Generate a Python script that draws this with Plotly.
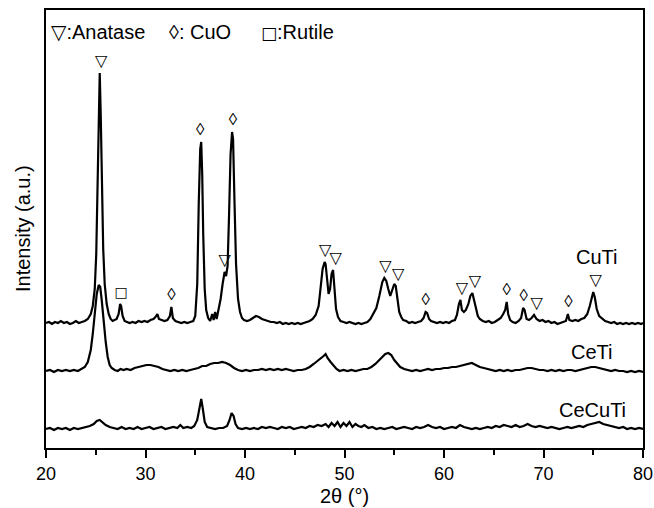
import plotly.graph_objects as go

# ---------------- data ----------------
CUTI_X = [20.0, 20.3, 20.6, 20.9, 21.2, 21.5, 21.8, 22.1, 22.4, 22.7, 23.0, 23.3, 23.6, 23.9, 24.2, 24.5, 24.7, 24.9,
          25.05, 25.2, 25.3, 25.4, 25.5, 25.6, 25.75, 25.9, 26.1, 26.3, 26.5, 26.7, 26.9, 27.1, 27.3, 27.45, 27.55,
          27.7, 27.9, 28.1, 28.4, 28.7, 29.0, 29.3, 29.6, 29.9, 30.2, 30.5, 30.8, 31.0, 31.2, 31.35, 31.6, 31.9,
          32.2, 32.45, 32.6, 32.75, 33.0, 33.3, 33.6, 33.9, 34.2, 34.5, 34.8, 35.0, 35.2, 35.35, 35.5, 35.6, 35.7,
          35.8, 35.95, 36.1, 36.3, 36.5, 36.7, 36.85, 37.0, 37.15, 37.35, 37.55, 37.75, 37.95, 38.1, 38.25, 38.4,
          38.55, 38.7, 38.8, 38.95, 39.1, 39.3, 39.5, 39.7, 39.9, 40.2, 40.5, 40.8, 41.1, 41.4, 41.7, 42.0, 42.3,
          42.6, 42.9, 43.2, 43.5, 43.8, 44.1, 44.4, 44.7, 45.0, 45.3, 45.6, 45.9, 46.2, 46.5, 46.8, 47.1, 47.4,
          47.6, 47.8, 48.0, 48.1, 48.25, 48.4, 48.55, 48.7, 48.85, 49.0, 49.15, 49.35, 49.6, 49.9, 50.2, 50.5,
          50.8, 51.1, 51.4, 51.7, 52.0, 52.3, 52.6, 52.9, 53.2, 53.5, 53.8, 54.0, 54.2, 54.4, 54.6, 54.8, 55.0,
          55.15, 55.3, 55.5, 55.7, 55.9, 56.2, 56.5, 56.8, 57.1, 57.4, 57.7, 57.95, 58.15, 58.3, 58.5, 58.7, 59.0,
          59.3, 59.6, 59.9, 60.2, 60.5, 60.8, 61.1, 61.3, 61.5, 61.65, 61.8, 62.0, 62.2, 62.45, 62.65, 62.85, 63.0,
          63.2, 63.4, 63.6, 63.9, 64.2, 64.5, 64.8, 65.1, 65.4, 65.7, 65.95, 66.15, 66.3, 66.45, 66.65, 66.9, 67.2,
          67.5, 67.75, 67.95, 68.1, 68.3, 68.55, 68.8, 69.05, 69.3, 69.6, 69.9, 70.2, 70.5, 70.8, 71.1, 71.4, 71.7,
          72.0, 72.25, 72.45, 72.6, 72.9, 73.2, 73.5, 73.8, 74.1, 74.4, 74.65, 74.85, 75.0, 75.15, 75.35, 75.6,
          75.9, 76.2, 76.5, 76.8, 77.1, 77.4, 77.7, 78.0, 78.3, 78.6, 78.9, 79.2, 79.5, 79.8, 80.0]
CUTI_Y = [1, 2, 0, 2, 1, 3, 1, 2, 0, 1, 3, 1, 2, 3, 5, 10, 18, 35,
          70, 150, 215, 251, 210, 140, 75, 40, 20, 10, 5, 3, 4, 5, 10, 20, 18,
          8, 3, 2, 1, 2, 1, 3, 2, 3, 2, 4, 5, 7, 10, 5, 4, 3,
          4, 8, 17, 6, 3, 2, 1, 2, 1, 2, 3, 8, 40, 120, 175, 182, 150,
          90, 35, 14, 6, 3, 10, 4, 12, 5, 14, 25, 40, 52, 48, 58, 110,
          170, 192, 185, 120, 60, 25, 12, 6, 4, 3, 4, 6, 8, 7, 5, 4, 3,
          2, 2, 1, 2, 0, 1, 0, 1, 0, 1, 0, 1, 2, 3, 5, 9, 18,
          35, 55, 62, 60, 45, 30, 35, 50, 54, 35, 15, 7, 3, 2, 1, 2,
          1, 0, 1, 0, 1, 2, 5, 10, 16, 28, 42, 46, 43, 35, 28, 34, 40,
          38, 25, 12, 7, 4, 3, 1, 2, 1, 2, 3, 6, 12, 11, 5, 3, 2,
          1, 2, 1, 2, 1, 3, 4, 9, 20, 24, 14, 12, 14, 20, 28, 31, 24,
          14, 8, 5, 3, 2, 3, 1, 2, 4, 6, 10, 14, 22, 10, 4, 2, 1,
          3, 6, 16, 14, 5, 4, 6, 9, 5, 3, 4, 2, 3, 1, 2, 0, 1,
          2, 3, 10, 4, 3, 4, 3, 5, 6, 10, 18, 28, 32, 27, 15, 8,
          5, 3, 2, 1, 2, 0, 1, 0, 1, 0, 1, 0, 1, 0, 1]

CETI_X = [20.0, 20.4, 20.8, 21.2, 21.6, 22.0, 22.4, 22.8, 23.2, 23.6, 23.9, 24.2, 24.5, 24.7, 24.9, 25.1, 25.3,
          25.45, 25.6, 25.8, 26.0, 26.2, 26.4, 26.6, 26.9, 27.2, 27.5, 27.8, 28.1, 28.5, 28.9, 29.3, 29.7, 30.1,
          30.5, 30.9, 31.3, 31.7, 32.1, 32.5, 32.9, 33.3, 33.7, 34.1, 34.5, 34.9, 35.3, 35.7, 36.1, 36.5, 36.9,
          37.3, 37.7, 38.1, 38.5, 38.9, 39.3, 39.7, 40.1, 40.5, 40.9, 41.3, 41.7, 42.1, 42.5, 42.9, 43.3, 43.7,
          44.1, 44.5, 44.9, 45.3, 45.7, 46.1, 46.5, 46.9, 47.3, 47.6, 47.9, 48.1, 48.3, 48.6, 48.9, 49.2, 49.5,
          49.9, 50.3, 50.7, 51.1, 51.5, 51.9, 52.3, 52.7, 53.1, 53.5, 53.8, 54.1, 54.4, 54.7, 55.0, 55.3, 55.6,
          56.0, 56.4, 56.8, 57.2, 57.6, 58.0, 58.4, 58.8, 59.2, 59.6, 60.0, 60.4, 60.8, 61.2, 61.6, 62.0, 62.4,
          62.8, 63.2, 63.6, 64.0, 64.4, 64.8, 65.2, 65.6, 66.0, 66.4, 66.8, 67.2, 67.6, 68.0, 68.4, 68.8, 69.2,
          69.6, 70.0, 70.4, 70.8, 71.2, 71.6, 72.0, 72.4, 72.8, 73.2, 73.6, 74.0, 74.4, 74.8, 75.2, 75.6, 76.0,
          76.4, 76.8, 77.2, 77.6, 78.0, 78.4, 78.8, 79.2, 79.6, 80.0]
CETI_Y = [1, 2, 0, 2, 1, 2, 1, 2, 1, 3, 5, 10, 22, 38, 58, 78, 87,
          85, 72, 50, 30, 15, 7, 4, 2, 1, 3, 2, 3, 2, 4, 5, 6, 7,
          7, 6, 5, 3, 2, 1, 2, 1, 2, 1, 2, 3, 4, 6, 6, 8, 9,
          9, 10, 9, 7, 4, 2, 1, 2, 1, 2, 2, 3, 2, 3, 2, 3, 2,
          3, 2, 1, 2, 2, 3, 5, 8, 11, 13, 16, 18, 14, 10, 6, 3, 1,
          2, 1, 2, 1, 2, 3, 3, 5, 8, 12, 16, 18, 19, 17, 12, 8, 5,
          3, 2, 1, 2, 1, 2, 3, 2, 3, 3, 4, 4, 5, 5, 6, 7, 8,
          9, 7, 5, 4, 3, 2, 1, 2, 1, 2, 1, 2, 2, 3, 4, 4, 3,
          2, 2, 1, 2, 1, 2, 1, 2, 2, 1, 2, 3, 4, 5, 5, 4, 3,
          2, 1, 2, 1, 1, 0, 1, 0, 1, 0]

CECUTI_X = [20.0, 20.4, 20.8, 21.2, 21.6, 22.0, 22.4, 22.8, 23.2, 23.6, 24.0, 24.4, 24.8, 25.1, 25.4, 25.7, 26.0,
            26.4, 26.8, 27.2, 27.6, 28.0, 28.4, 28.8, 29.2, 29.6, 30.0, 30.4, 30.8, 31.2, 31.6, 32.0, 32.4, 32.8,
            33.2, 33.5, 33.8, 34.2, 34.6, 34.9, 35.2, 35.45, 35.6, 35.75, 35.95, 36.2, 36.6, 37.0, 37.4, 37.8,
            38.2, 38.45, 38.65, 38.85, 39.05, 39.3, 39.7, 40.1, 40.5, 40.9, 41.3, 41.7, 42.1, 42.5, 42.9, 43.3,
            43.7, 44.1, 44.5, 44.9, 45.3, 45.7, 46.1, 46.5, 46.9, 47.3, 47.7, 48.1, 48.4, 48.7, 49.0, 49.3, 49.6,
            49.9, 50.2, 50.5, 50.8, 51.1, 51.4, 51.7, 52.0, 52.4, 52.8, 53.2, 53.6, 54.0, 54.4, 54.8, 55.2, 55.6,
            56.0, 56.4, 56.8, 57.2, 57.6, 58.0, 58.4, 58.8, 59.2, 59.6, 60.0, 60.4, 60.8, 61.2, 61.6, 62.0, 62.4,
            62.8, 63.2, 63.6, 64.0, 64.4, 64.8, 65.2, 65.6, 66.0, 66.4, 66.8, 67.2, 67.6, 68.0, 68.4, 68.8, 69.2,
            69.6, 70.0, 70.4, 70.8, 71.2, 71.6, 72.0, 72.4, 72.8, 73.2, 73.6, 74.0, 74.4, 74.8, 75.2, 75.6, 76.0,
            76.4, 76.8, 77.2, 77.6, 78.0, 78.4, 78.8, 79.2, 79.6, 80.0]
CECUTI_Y = [1, 2, 0, 2, 1, 2, 0, 2, 1, 2, 3, 4, 6, 9, 10, 7, 5,
            3, 2, 1, 3, 1, 2, 1, 3, 1, 2, 3, 1, 2, 3, 1, 2, 3,
            2, 5, 2, 3, 2, 4, 10, 25, 31, 22, 8, 3, 2, 1, 2, 2,
            4, 10, 17, 14, 6, 2, 1, 2, 1, 2, 1, 3, 2, 3, 2, 1,
            3, 2, 3, 1, 2, 3, 2, 4, 3, 5, 4, 6, 3, 7, 4, 8, 3,
            7, 4, 8, 3, 6, 4, 3, 5, 2, 3, 1, 2, 1, 2, 3, 1, 2,
            3, 2, 1, 3, 2, 3, 5, 3, 2, 3, 1, 2, 3, 2, 5, 3, 2,
            1, 2, 1, 2, 3, 2, 4, 3, 5, 4, 3, 5, 3, 4, 6, 4, 3,
            4, 3, 2, 3, 2, 1, 2, 3, 2, 3, 4, 3, 5, 6, 7, 8, 6,
            5, 4, 3, 2, 3, 1, 2, 1, 2, 1]

SERIES = [("CuTi", CUTI_X, CUTI_Y), ("CeTi", CETI_X, CETI_Y), ("CeCuTi", CECUTI_X, CECUTI_Y)]
OFFSETS = {"CuTi": 124, "CeTi": 76, "CeCuTi": 18}

# phase reflections marked on the CuTi pattern (2theta)
ANATASE_2T = [25.55, 37.95, 48.05, 49.1, 54.1, 55.4, 61.8, 63.1, 69.3, 75.25]
CUO_2T = [32.6, 35.5, 38.8, 58.15, 66.3, 68.0, 72.5]
RUTILE_2T = [27.55]
PHASE_SYMBOLS = {"Anatase": "▽", "CuO": "◊", "Rutile": "□"}

X_TICKS = [20, 30, 40, 50, 60, 70, 80]

# ---------------- figure ----------------
fig = go.Figure()
for name, xs, ys in SERIES:
    off = OFFSETS[name]
    fig.add_trace(go.Scatter(x=xs, y=[v + off for v in ys], mode="lines",
                             line=dict(color="black", width=2.2), name=name, showlegend=False))


def peak_top(pos, win=0.25):
    vals = [y for x, y in zip(CUTI_X, CUTI_Y) if abs(x - pos) <= win]
    return max(vals) + OFFSETS["CuTi"]


PAD = 11
sym_font = "DejaVu Sans"
for phase, positions, size, fam in [("Anatase", ANATASE_2T, 16, sym_font),
                                    ("CuO", CUO_2T, 17, "Liberation Sans, DejaVu Sans"),
                                    ("Rutile", RUTILE_2T, 14, sym_font)]:
    fig.add_trace(go.Scatter(
        x=positions, y=[peak_top(p) + PAD for p in positions], mode="text",
        text=[PHASE_SYMBOLS[phase]] * len(positions),
        textfont=dict(family=fam, size=size, color="black"),
        showlegend=False, hoverinfo="skip"))

font = "Liberation Sans, Arial, DejaVu Sans"
legend_text = [
    (20.35, "<span style='font-family:DejaVu Sans'>▽</span>:Anatase"),
    (32.2, "◊: CuO"),
    (41.45, "<span style='font-family:DejaVu Sans;font-size:17px'>□</span>:Rutile"),
]
annotations = [
    dict(x=lx, y=416, xref="x", yref="y", text=lt, showarrow=False, xanchor="left", yanchor="middle",
         font=dict(family=font, size=20, color="black"))
    for lx, lt in legend_text
]
annotations += [
    dict(x=75.33, y=191, xref="x", yref="y", text="CuTi", showarrow=False, xanchor="center", yanchor="middle",
         font=dict(family=font, size=20, color="black")),
    dict(x=74.8, y=96, xref="x", yref="y", text="CeTi", showarrow=False, xanchor="center", yanchor="middle",
         font=dict(family=font, size=20, color="black")),
    dict(x=74.97, y=38, xref="x", yref="y", text="CeCuTi", showarrow=False, xanchor="center", yanchor="middle",
         font=dict(family=font, size=20, color="black")),
    dict(x=-0.0385, y=0.5, xref="paper", yref="paper", text="Intensity (a.u.)", textangle=-90,
         xanchor="center", yanchor="middle",
         showarrow=False, font=dict(family=font, size=20, color="black")),
    dict(x=0.5, y=-0.109, xref="paper", yref="paper", text="2θ (°)", showarrow=False,
         xanchor="center", yanchor="middle",
         font=dict(family=font, size=20, color="black")),
]

fig.update_layout(
    width=654, height=508,
    margin=dict(l=46, r=11, t=10, b=60),
    paper_bgcolor="white", plot_bgcolor="white",
    annotations=annotations,
    xaxis=dict(range=[20, 80], tickvals=X_TICKS, ticktext=[str(t) for t in X_TICKS],
               ticks="outside", ticklen=8, tickwidth=1.5, tickcolor="black",
               minor=dict(dtick=5, ticks="outside", ticklen=5, tickwidth=1.5, tickcolor="black"),
               showline=True, linecolor="black", linewidth=2, mirror=True,
               showgrid=False, zeroline=False, automargin=False,
               tickfont=dict(family=font, size=18, color="black")),
    yaxis=dict(range=[0, 438], showticklabels=False, ticks="",
               showline=True, linecolor="black", linewidth=2, mirror=True,
               showgrid=False, zeroline=False, automargin=False),
)

fig.write_html("out.html")
